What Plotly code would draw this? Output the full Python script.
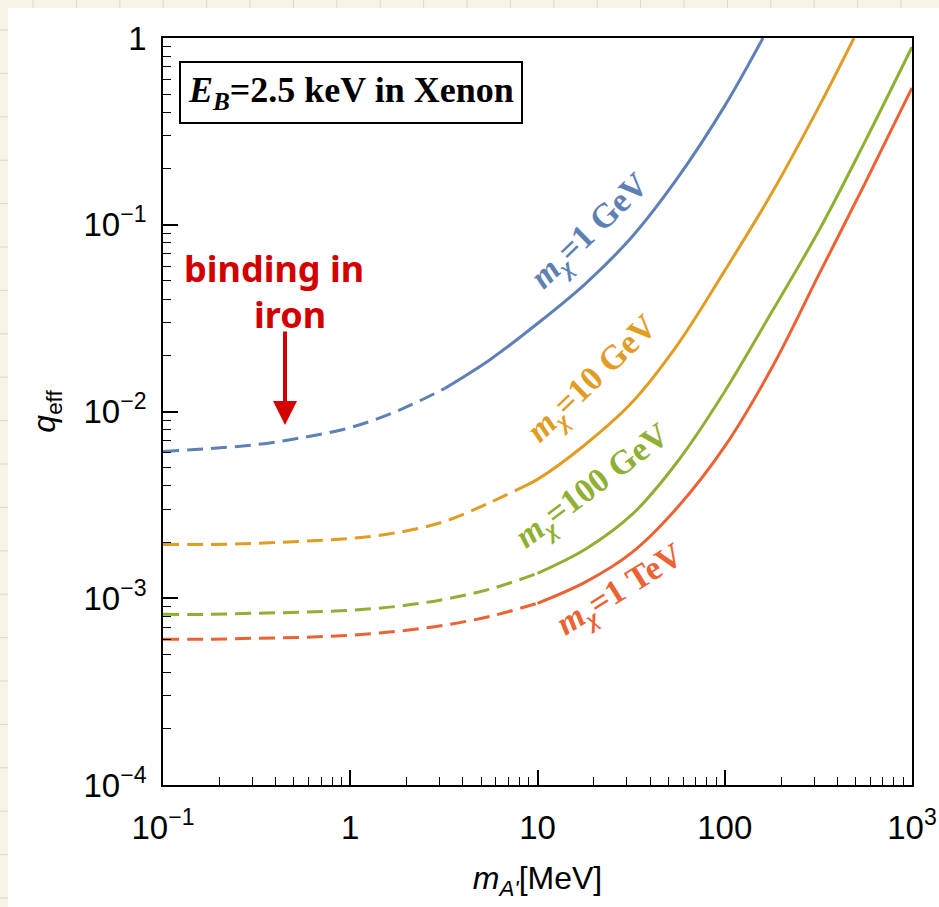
import numpy as np
import plotly.graph_objects as go

# ---------------- data ----------------
m_blue = [0.1, 0.18, 0.32, 0.56, 1, 1.8, 3.2, 5.6, 10, 18, 32, 56, 100, 160]
q_blue = [0.00611, 0.00634, 0.00666, 0.00726, 0.0082, 0.0101, 0.0133, 0.019, 0.0296, 0.0483, 0.0863, 0.178, 0.433, 1.0]
split_blue = 3.2

m_orange = [0.1, 0.18, 0.32, 0.56, 1, 1.8, 3.2, 5.6, 8.6, 10, 18, 32, 56, 100, 180, 320, 490]
q_orange = [0.00194, 0.00194, 0.00197, 0.00202, 0.00209, 0.00225, 0.00258, 0.00326, 0.0040, 0.00433, 0.00666,
            0.0112, 0.0228, 0.0568, 0.150, 0.433, 1.0]
split_orange = 8.6

m_green = [0.1, 0.18, 0.32, 0.56, 1, 1.8, 3.2, 5.6, 10, 18, 32, 56, 100, 180, 320, 560, 1000]
q_green = [0.00082, 0.00082, 0.000832, 0.000842, 0.000863, 0.000906, 0.000988, 0.00112, 0.00136, 0.00183,
           0.00281, 0.0054, 0.0128, 0.0347, 0.094, 0.278, 0.895]
split_green = 10

m_red = [0.1, 0.18, 0.32, 0.56, 1, 1.8, 3.2, 5.6, 10, 18, 32, 56, 100, 180, 320, 560, 1000]
q_red = [0.000604, 0.000604, 0.000611, 0.000618, 0.000634, 0.000666, 0.000718, 0.000801, 0.00094, 0.00122,
         0.00176, 0.00307, 0.0065, 0.0174, 0.0547, 0.166, 0.54]
split_red = 10

x_tickvals = [0.1, 1, 10, 100, 1000]
x_ticktext = ["10<sup>\u22121</sup>", "1", "10", "100", "10<sup>3</sup>"]
y_tickvals = [1e-4, 1e-3, 1e-2, 1e-1, 1]
y_ticktext = ["10<sup>\u22124</sup>", "10<sup>\u22123</sup>", "10<sup>\u22122</sup>", "10<sup>\u22121</sup>", "1"]

labels = ["<b><i>m</i><sub><i>\u03c7</i></sub>=1 GeV</b>",
          "<b><i>m</i><sub><i>\u03c7</i></sub>=10 GeV</b>",
          "<b><i>m</i><sub><i>\u03c7</i></sub>=100 GeV</b>",
          "<b><i>m</i><sub><i>\u03c7</i></sub>=1 TeV</b>"]
label_x = [19.2, 19.7, 19.9, 27.8]
label_logy = [-1.037, -1.829, -2.406, -2.963]
label_angle = [-44, -44, -37, -32]

colors = ["#5E81B5", "#E19C24", "#8FB032", "#EB6235"]

# ---------------- figure ----------------
W, H = 939, 907
L, R, T, B = 163, 912, 38, 785


def px2paper(px, py):
    return (px - L) / (R - L), (B - py) / (B - T)


fig = go.Figure()

series = [(m_blue, q_blue, split_blue), (m_orange, q_orange, split_orange),
          (m_green, q_green, split_green), (m_red, q_red, split_red)]

for (m, q, s), c in zip(series, colors):
    m = np.array(m, dtype=float)
    q = np.array(q, dtype=float)
    d = m <= s
    so = m >= s
    fig.add_trace(go.Scatter(x=m[d], y=q[d], mode="lines",
                             line=dict(color=c, width=3, dash="16px,8px", shape="spline", smoothing=1.0),
                             hoverinfo="skip"))
    fig.add_trace(go.Scatter(x=m[so], y=q[so], mode="lines",
                             line=dict(color=c, width=3, shape="spline", smoothing=1.0),
                             hoverinfo="skip"))

for txt, lx, ly, ang, c in zip(labels, label_x, label_logy, label_angle, colors):
    fig.add_annotation(x=np.log10(lx), y=ly, xref="x", yref="y", text=txt, showarrow=False,
                       textangle=ang, xanchor="center", yanchor="middle",
                       font=dict(family="Liberation Serif", size=34, color=c))

# E_B box
bx, by = px2paper(351, 92)
fig.add_annotation(x=bx, y=by, xref="paper", yref="paper", showarrow=False,
                   text="<b><i>E</i><sub><i>B</i></sub>=2.5 keV in Xenon</b>",
                   font=dict(family="Liberation Serif", size=36, color="black"),
                   bordercolor="black", borderwidth=2, borderpad=7, bgcolor="white",
                   xanchor="center", yanchor="middle")

# handwritten note
red_ink = "#D20000"
hx, hy = px2paper(274, 268)
fig.add_annotation(x=hx, y=hy, xref="paper", yref="paper", showarrow=False,
                   xanchor="center", yanchor="middle",
                   text="<b>binding in</b>", font=dict(family="Noto Sans", size=36, color=red_ink))
hx2, hy2 = px2paper(290, 314)
fig.add_annotation(x=hx2, y=hy2, xref="paper", yref="paper", showarrow=False,
                   xanchor="center", yanchor="middle",
                   text="<b>iron</b>", font=dict(family="Noto Sans", size=36, color=red_ink))
ax_, ay_ = px2paper(285, 425)
fig.add_annotation(x=ax_, y=ay_, xref="paper", yref="paper", text="", showarrow=True,
                   ax=0, ay=-95, arrowhead=2, arrowsize=1.2, arrowwidth=4, arrowcolor=red_ink)

# background: cream notebook paper with white panel
shapes = []
x0p, y0p = px2paper(8, 8)
x1p, y1p = px2paper(W + 5, H + 5)
shapes.append(dict(type="rect", xref="paper", yref="paper", x0=x0p, y0=y1p, x1=x1p, y1=y0p,
                   fillcolor="white", line=dict(width=0), layer="below"))
gx = 33.0
while gx < W:
    a, b0 = px2paper(gx, 0)
    _, b1 = px2paper(gx, 8)
    shapes.append(dict(type="line", xref="paper", yref="paper", x0=a, x1=a, y0=b0, y1=b1,
                       line=dict(color="#DDD9C8", width=1), layer="below"))
    gx += 43.4
gy = 30.0
while gy < H:
    a0, b = px2paper(0, gy)
    a1, _ = px2paper(8, gy)
    shapes.append(dict(type="line", xref="paper", yref="paper", x0=a0, x1=a1, y0=b, y1=b,
                       line=dict(color="#DDD9C8", width=1), layer="below"))
    gy += 43.4
fig.update_layout(shapes=shapes)

minor_x = [k * 10.0 ** e for e in range(-1, 3) for k in range(2, 10)]
minor_y = [k * 10.0 ** e for e in range(-4, 0) for k in range(2, 10)]

axis_font = dict(family="Liberation Sans", size=33, color="black")
fig.update_xaxes(type="log", range=[-1, 3], tickmode="array", tickvals=x_tickvals, ticktext=x_ticktext,
                 ticks="inside", ticklen=15, tickwidth=1.5, tickcolor="black",
                 minor=dict(tickmode="array", tickvals=minor_x, ticks="inside", ticklen=8,
                            tickwidth=1.3, tickcolor="black", showgrid=False),
                 showline=True, linecolor="black", linewidth=1.8, mirror=True, showgrid=False,
                 zeroline=False, tickfont=axis_font, ticklabelstandoff=12,
                 title=dict(text="<i>m</i><sub><i>A'</i></sub>[MeV]",
                            font=dict(family="Liberation Sans", size=32, color="black"), standoff=22))
fig.update_yaxes(type="log", range=[-4, 0], tickmode="array", tickvals=y_tickvals, ticktext=y_ticktext,
                 ticks="inside", ticklen=15, tickwidth=1.5, tickcolor="black",
                 minor=dict(tickmode="array", tickvals=minor_y, ticks="inside", ticklen=8,
                            tickwidth=1.3, tickcolor="black", showgrid=False),
                 showline=True, linecolor="black", linewidth=1.8, mirror=True, showgrid=False,
                 zeroline=False, tickfont=axis_font, ticklabelstandoff=8,
                 title=dict(text="<i>q</i><sub>eff</sub>",
                            font=dict(family="Liberation Sans", size=32, color="black"), standoff=18))

fig.update_layout(width=W, height=H, margin=dict(l=L, r=W - R, t=T, b=H - B, autoexpand=False),
                  paper_bgcolor="#F6F3E7", plot_bgcolor="white", showlegend=False)

fig.write_html("out.html")
